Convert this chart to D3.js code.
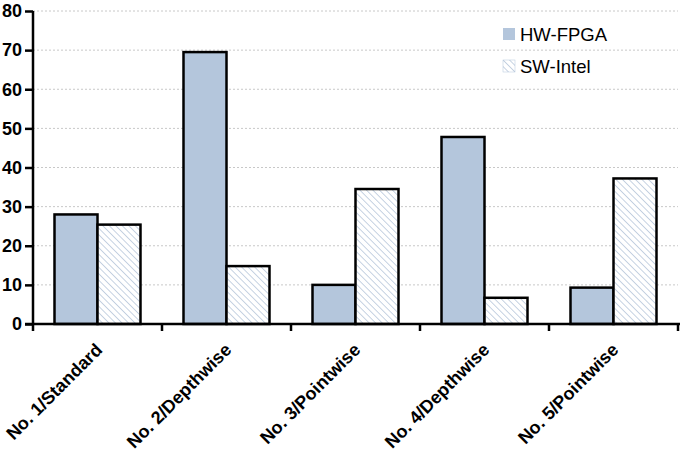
<!DOCTYPE html>
<html><head><meta charset="utf-8">
<script src="https://cdn.jsdelivr.net/npm/d3@7"></script>
<style>body{margin:0;background:#fff}svg{display:block}</style>
</head><body>
<svg id="c" width="685" height="451"></svg>
<script>
const categories = ["No. 1/Standard","No. 2/Depthwise","No. 3/Pointwise","No. 4/Depthwise","No. 5/Pointwise"];
const seriesNames = ["HW-FPGA","SW-Intel"];
const hwFpga = [28, 69.5, 10, 47.8, 9.3];
const swIntel = [25.4, 14.8, 34.5, 6.7, 37.2];
const yTicks = [0,10,20,30,40,50,60,70,80];

const svg = d3.select("#c");
const m = {l:33, r:7, t:11, b:127};
const W = 685, H = 451;
const x = d3.scaleBand().domain(categories).range([m.l, W - m.r]).paddingInner(0).paddingOuter(0);
const y = d3.scaleLinear().domain([0,80]).range([H - m.b, m.t]);
const inner = d3.scaleBand().domain(seriesNames).range([0, x.bandwidth()]).paddingOuter(0.5).paddingInner(0);

const defs = svg.append("defs");
const pat = defs.append("pattern").attr("id","hatch").attr("patternUnits","userSpaceOnUse")
  .attr("width",4.6).attr("height",4.6).attr("patternTransform","rotate(-45)");
pat.append("rect").attr("width",4.6).attr("height",4.6).attr("fill","#fff");
pat.append("line").attr("x1",0).attr("y1",0).attr("x2",0).attr("y2",4.6)
  .attr("stroke","#8fa7c6").attr("stroke-width",1);

// grid
svg.append("g").selectAll("line").data(yTicks.filter(d=>d>0)).join("line")
  .attr("x1",m.l).attr("x2",W-m.r).attr("y1",d=>y(d)).attr("y2",d=>y(d))
  .attr("stroke","#c8c8c8").attr("stroke-dasharray","2,2").attr("stroke-width",1);

const fills = ["#b4c6dc","url(#hatch)"];
const vals = [hwFpga, swIntel];
seriesNames.forEach((s,i)=>{
  svg.append("g").selectAll("rect").data(vals[i]).join("rect")
    .attr("x",(d,j)=>x(categories[j]) + inner(s))
    .attr("width",inner.bandwidth())
    .attr("y",d=>y(d)).attr("height",d=>y(0)-y(d))
    .attr("fill",fills[i]).attr("stroke","#000").attr("stroke-width",2.5);
});

// y axis
const ya = svg.append("g").attr("transform",`translate(${m.l},0)`)
  .call(d3.axisLeft(y).tickValues(yTicks).tickSize(8).tickPadding(3));
ya.select(".domain").attr("stroke","#000").attr("stroke-width",2.5).attr("d",`M0,${y(80)}V${y(0)+7}`);
ya.selectAll(".tick line").attr("stroke","#000").attr("stroke-width",2.5);
ya.selectAll("text").attr("font-family","Liberation Sans, Arial, sans-serif").attr("font-weight","bold")
  .attr("font-size",18).attr("fill","#000");

// x axis
const xa = svg.append("g").attr("transform",`translate(0,${y(0)})`);
xa.append("line").attr("x1",m.l-8).attr("x2",W-m.r+2).attr("y1",0).attr("y2",0)
  .attr("stroke","#000").attr("stroke-width",2.5);
const bounds = categories.map(c=>x(c)+x.bandwidth());
xa.selectAll("line.t").data(bounds).join("line").attr("class","t")
  .attr("x1",d=>d).attr("x2",d=>d).attr("y1",0).attr("y2",7)
  .attr("stroke","#000").attr("stroke-width",2.5);
xa.selectAll("text").data(categories).join("text")
  .attr("transform",d=>`translate(${x(d)+x.bandwidth()/2+6},${27}) rotate(-45)`)
  .attr("text-anchor","end")
  .attr("font-family","Liberation Sans, Arial, sans-serif").attr("font-weight","bold")
  .attr("font-size",18).attr("fill","#000").text(d=>d);

// legend
const lg = svg.append("g");
seriesNames.forEach((s,i)=>{
  const ly = 34 + i*32;
  lg.append("rect").attr("x",503).attr("y",ly-6).attr("width",12).attr("height",12)
    .attr("fill",fills[i]).attr("stroke",i==1?"#b4c6dc":"none").attr("stroke-width",0.5);
  lg.append("text").attr("x",520).attr("y",ly+6.5).attr("font-family","Liberation Sans, Arial, sans-serif")
    .attr("font-size",18.5).attr("fill","#000").text(s);
});
</script>
</body></html>
